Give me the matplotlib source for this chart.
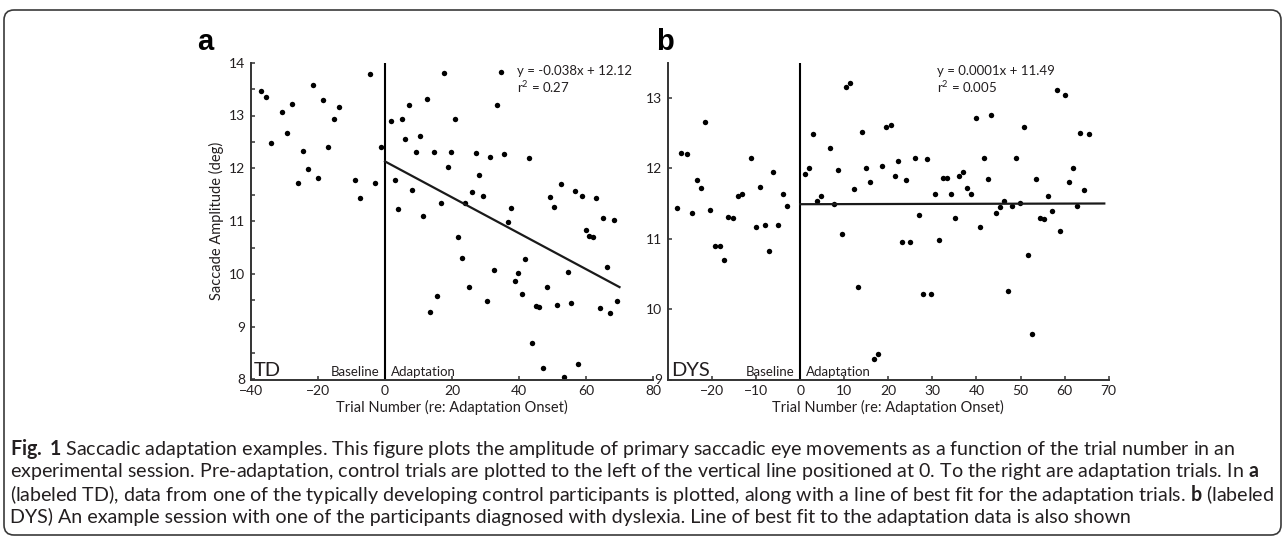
import matplotlib
matplotlib.use('Agg')
import matplotlib.pyplot as plt
from matplotlib.patches import FancyBboxPatch
from matplotlib.ticker import MultipleLocator
from matplotlib.transforms import IdentityTransform

plt.rcParams['font.family'] = ['Lato', 'DejaVu Sans']
plt.rcParams['mathtext.fontset'] = 'custom'
plt.rcParams['mathtext.rm'] = 'Lato'
plt.rcParams['mathtext.bf'] = 'Lato:bold'

# panel a: typically developing (TD)
td_base_x = [-37.0, -35.4, -33.9, -30.7, -29.2, -27.7, -26.1, -24.6, -23.0, -21.5,
             -19.9, -18.4, -16.9, -15.3, -13.7, -9.1, -7.5, -4.4, -2.9, -1.3]
td_base_y = [13.47, 13.35, 12.47, 13.07, 12.66, 13.21, 11.73, 12.33, 11.98, 13.58,
             11.82, 13.29, 12.40, 12.93, 13.16, 11.78, 11.43, 13.79, 11.72, 12.41]
td_adapt_x = [1.9, 2.9, 4.0, 5.1, 6.1, 7.2, 8.2, 9.3, 10.4, 11.4, 12.4, 13.4, 14.5, 15.6,
              16.7, 17.7, 18.8, 19.8, 20.9, 21.9, 23.0, 24.0, 25.1, 26.1, 27.2, 28.2,
              29.3, 30.4, 31.4, 32.4, 33.5, 34.6, 35.6, 36.7, 37.7, 38.8, 39.8, 40.9,
              41.9, 43.0, 44.0, 45.0, 46.0, 47.2, 48.3, 49.3, 50.5, 51.4, 52.6, 53.5,
              54.7, 55.6, 56.7, 57.7, 58.9, 59.9, 61.0, 62.0, 63.1, 64.2, 65.2, 66.3,
              67.3, 68.4, 69.4]
td_adapt_y = [12.90, 11.78, 11.23, 12.93, 12.55, 13.20, 11.59, 12.31, 12.62, 11.10, 13.31,
              9.27, 12.31, 9.58, 11.34, 13.80, 12.02, 12.30, 12.94, 10.70, 10.31, 11.34,
              9.76, 11.55, 12.29, 11.87, 11.48, 9.48, 12.21, 10.07, 13.19, 13.83, 12.27,
              10.98, 11.25, 9.86, 10.02, 9.61, 10.29, 12.20, 8.69, 9.39, 9.38, 8.21,
              9.75, 11.46, 11.26, 9.41, 11.71, 8.05, 10.03, 9.45, 11.57, 8.29, 11.48,
              10.84, 10.72, 10.70, 11.44, 9.35, 11.05, 10.13, 9.25, 11.03, 9.49]
td_fit_x = [0, 70]
td_fit_y = [12.13, 9.75]
td_eq = ['y = -0.038x + 12.12', 'r$^2$ = 0.27']

# panel b: dyslexia (DYS)
dys_base_x = [-28.0, -27.0, -25.8, -24.5, -23.5, -22.4, -21.5, -20.4, -19.4, -18.3, -17.4,
              -16.3, -15.2, -14.2, -13.2, -11.1, -10.1, -9.1, -8.0, -7.0, -6.1, -5.0,
              -4.0, -3.0]
dys_base_y = [11.43, 12.22, 12.21, 11.36, 11.83, 11.72, 12.66, 11.41, 10.90, 10.89, 10.70,
              11.31, 11.29, 11.60, 11.64, 12.15, 11.16, 11.73, 11.19, 10.83, 11.95, 11.19,
              11.64, 11.47]
dys_adapt_x = [1.0, 2.0, 3.0, 3.9, 4.8, 6.7, 7.6, 8.5, 9.4, 10.3, 11.3, 12.1, 13.1, 14.0,
               14.9, 15.8, 16.7, 17.7, 18.5, 19.5, 20.5, 21.4, 22.3, 23.2, 24.1, 25.0,
               26.0, 26.9, 27.8, 28.7, 29.6, 30.6, 31.5, 32.4, 33.3, 34.2, 35.1, 36.0,
               37.0, 37.9, 38.8, 39.8, 40.7, 41.6, 42.5, 43.4, 44.4, 45.3, 46.2, 47.1,
               48.0, 48.9, 49.8, 50.8, 51.7, 52.6, 53.5, 54.5, 55.4, 56.3, 57.2, 58.2,
               59.0, 60.0, 60.9, 61.8, 62.7, 63.6, 64.5, 65.5]
dys_adapt_y = [11.92, 12.00, 12.49, 11.53, 11.61, 12.29, 11.49, 11.97, 11.07, 13.16, 13.21,
               11.70, 10.31, 12.51, 12.00, 11.81, 9.29, 9.36, 12.03, 12.59, 12.62, 11.89,
               12.11, 10.96, 11.83, 10.96, 12.14, 11.34, 10.22, 12.13, 10.21, 11.64, 10.98,
               11.86, 11.86, 11.64, 11.29, 11.89, 11.95, 11.72, 11.64, 12.71, 11.16, 12.15,
               11.85, 12.76, 11.36, 11.45, 11.54, 10.26, 11.46, 12.15, 11.51, 12.58, 10.77,
               9.64, 11.85, 11.30, 11.28, 11.61, 11.39, 13.11, 11.11, 13.04, 11.81, 12.00,
               11.47, 12.50, 11.69, 12.49]
dys_fit_x = [0, 69]
dys_fit_y = [11.49, 11.50]
dys_eq = ['y = 0.0001x + 11.49', 'r$^2$ = 0.005']

caption_lines = [
    '$\\mathbf{Fig.\\:1}$ Saccadic adaptation examples. This figure plots the amplitude of primary '
    'saccadic eye movements as a function of the trial number in an',
    'experimental session. Pre-adaptation, control trials are plotted to the left of the vertical '
    'line positioned at 0. To the right are adaptation trials. In $\\mathbf{a}$',
    '(labeled TD), data from one of the typically developing control participants is plotted, '
    'along with a line of best fit for the adaptation trials. $\\mathbf{b}$ (labeled',
    'DYS) An example session with one of the participants diagnosed with dyslexia. Line of best '
    'fit to the adaptation data is also shown',
]

W, H = 1285, 540
INK = '#231f20'


def box(left, top, right, bottom):
    return [left / W, 1 - bottom / H, (right - left) / W, (bottom - top) / H]


def draw_panel(ax, bx, by, axx, ay, fx, fy, eq, eq_x, tag):
    for s in ['top', 'right']:
        ax.spines[s].set_visible(False)
    for s in ['left', 'bottom']:
        ax.spines[s].set_linewidth(1.4)
        ax.spines[s].set_color('#333333')
    ax.tick_params(which='both', direction='in', length=3.2, width=1.1, color='#333333',
                   labelsize=10, labelcolor=INK, pad=4)
    ax.axvline(0, color='black', lw=1.5)
    ax.plot(bx, by, 'o', ms=3.9, color='black', mec='none', clip_on=False)
    ax.plot(axx, ay, 'o', ms=3.9, color='black', mec='none', clip_on=False)
    ax.plot(fx, fy, color='#1a1a1a', lw=1.6)
    ax.text(eq_x, 0.975, eq[0], transform=ax.transAxes, va='center', fontsize=9.5, color=INK)
    ax.text(eq_x, 0.922, eq[1], transform=ax.transAxes, va='center', fontsize=9.5, color=INK)
    ax.annotate('Baseline', xy=(0, 0), xycoords=('data', 'axes fraction'), xytext=(-6, 4),
                textcoords='offset pixels', ha='right', va='baseline', fontsize=9.5, color=INK)
    ax.annotate('Adaptation', xy=(0, 0), xycoords=('data', 'axes fraction'), xytext=(6, 4),
                textcoords='offset pixels', ha='left', va='baseline', fontsize=9.5, color=INK)
    ax.annotate(tag, xy=(0, 0), xycoords='axes fraction', xytext=(3, 3),
                textcoords='offset pixels', ha='left', va='baseline', fontsize=14.5, color=INK)
    ax.set_xlabel('Trial Number (re: Adaptation Onset)', fontsize=10.5, color=INK, labelpad=2)


fig = plt.figure(figsize=(12.85, 5.4), dpi=100)

ax_a = fig.add_axes(box(251, 62.7, 653, 379.5))
draw_panel(ax_a, td_base_x, td_base_y, td_adapt_x, td_adapt_y, td_fit_x, td_fit_y,
           td_eq, 0.661, 'TD')
ax_a.set_xlim(-40, 80)
ax_a.set_ylim(8, 14)
ax_a.xaxis.set_major_locator(MultipleLocator(20))
ax_a.yaxis.set_major_locator(MultipleLocator(1))
ax_a.yaxis.set_minor_locator(MultipleLocator(0.5))
ax_a.set_ylabel('Saccade Amplitude (deg)', fontsize=10.5, color=INK)

ax_b = fig.add_axes(box(668, 62.7, 1108.7, 379.5))
draw_panel(ax_b, dys_base_x, dys_base_y, dys_adapt_x, dys_adapt_y, dys_fit_x, dys_fit_y,
           dys_eq, 0.610, 'DYS')
ax_b.set_xlim(-30, 70)
ax_b.set_ylim(9, 13.5)
ax_b.set_xticks(range(-20, 71, 10))
ax_b.set_yticks(range(9, 14))

fig.text(197 / W, 1 - 42 / H, 'a', fontsize=21, fontweight='bold',
         family=['Liberation Sans', 'DejaVu Sans'], va='center', ha='left')
fig.text(656 / W, 1 - 42 / H, 'b', fontsize=21, fontweight='bold',
         family=['Liberation Sans', 'DejaVu Sans'], va='center', ha='left')

# frame round the figure
fig.add_artist(FancyBboxPatch((4, 5), 1277, 525, boxstyle='round,pad=0,rounding_size=10',
                              transform=IdentityTransform(), fill=False,
                              edgecolor='#3a3a3a', lw=1.2))

cap_y = [449, 472, 494, 517]
cap_font = ['Lato', 'DejaVu Sans']
cap_texts = [fig.text(10 / W, 1 - y / H, line, fontsize=10, family=cap_font, color=INK,
                      va='center', ha='left')
             for line, y in zip(caption_lines, cap_y)]
renderer = fig.canvas.get_renderer()
w0 = cap_texts[0].get_window_extent(renderer).width
for t in cap_texts:
    t.set_fontsize(10 * 1226 / w0)

fig.savefig('out.png', dpi=100)
